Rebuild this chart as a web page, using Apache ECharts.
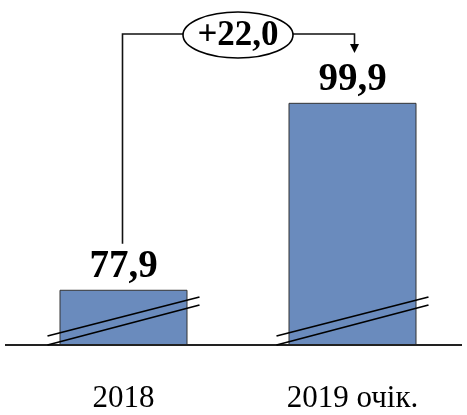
<!DOCTYPE html>
<html><head><meta charset="utf-8">
<script src="https://cdn.jsdelivr.net/npm/echarts@6/dist/echarts.min.js"></script>
<style>html,body{margin:0;padding:0;background:#fff}#c{width:467px;height:415px}</style>
</head><body><div id="c"></div>
<script>
const categories = ['2018', '2019 очік.'];
const values = [77.9, 99.9];
const yMin = 71.4;
const yMax = 112;

const fmt = v => v.toFixed(1).replace('.', ',');
const diff = values[1] - values[0];
const changeLabel = (diff >= 0 ? '+' : '') + fmt(diff);

const chart = echarts.init(document.getElementById('c'), null, {renderer: 'canvas'});
chart.setOption({
  animation: false,
  grid: {left: 9, right: -2, top: 0, bottom: 70},
  xAxis: {
    type: 'category', data: categories,
    axisLine: {show: false}, axisTick: {show: false},
    axisLabel: {fontFamily: 'Liberation Serif', fontSize: 31, color: '#000', margin: 38}
  },
  yAxis: {type: 'value', min: yMin, max: yMax, show: false, splitLine: {show: false}},
  series: [{
    type: 'bar', data: values, barWidth: 128,
    itemStyle: {color: '#6A8BBD', borderColor: '#333', borderWidth: 1},
    label: {
      show: true, position: 'top', distance: 3,
      formatter: p => fmt(p.value),
      fontFamily: 'Liberation Serif', fontWeight: 'bold', fontSize: 39, color: '#000'
    }
  }]
});

const px = (i, v) => chart.convertToPixel({xAxisIndex: 0, yAxisIndex: 0}, [i, v]);
const p0 = px(0, values[0]);
const p1 = px(1, values[1]);
const baseY = px(0, yMin)[1];
const half = 64;
const g = [];
const stroke = {stroke: '#111', lineWidth: 1.6};
// baseline
g.push({type: 'line', shape: {x1: 5, y1: baseY, x2: 462, y2: baseY}, style: {stroke: '#222', lineWidth: 2}, z: 10});
// break marks
[p0, p1].forEach(p => {
  const l = p[0] - half - 12, r = p[0] + half + 12;
  g.push({type: 'line', shape: {x1: l, y1: baseY - 9, x2: r, y2: baseY - 48}, style: {stroke: '#000', lineWidth: 1.8}, z: 10});
  g.push({type: 'line', shape: {x1: l, y1: baseY, x2: r, y2: baseY - 40}, style: {stroke: '#000', lineWidth: 1.8}, z: 10});
});
// annotation connector
const topY = 34;
const ex = (p0[0] + p1[0]) / 2, ey = 35, rx = 55, ry = 23;
const lx = p0[0] - 1, rX = p1[0] + 2;
g.push({type: 'polyline', shape: {points: [[lx, p0[1] - 46], [lx, topY], [ex - rx, topY]]}, style: Object.assign({fill: null}, stroke), z: 10});
g.push({type: 'polyline', shape: {points: [[ex + rx, topY], [rX, topY], [rX, 45]]}, style: Object.assign({fill: null}, stroke), z: 10});
g.push({type: 'polygon', shape: {points: [[rX - 4.5, 44], [rX + 4.5, 44], [rX, 53]]}, style: {fill: '#000'}, z: 10});
g.push({type: 'ellipse', shape: {cx: ex, cy: ey, rx: rx, ry: ry}, style: {fill: '#fff', stroke: '#000', lineWidth: 1.6}, z: 11});
g.push({type: 'text', x: ex, y: ey + 1, style: {text: changeLabel, align: 'center', verticalAlign: 'middle', font: 'bold 35px "Liberation Serif"', fill: '#000'}, z: 12});
chart.setOption({graphic: g});
</script></body></html>
